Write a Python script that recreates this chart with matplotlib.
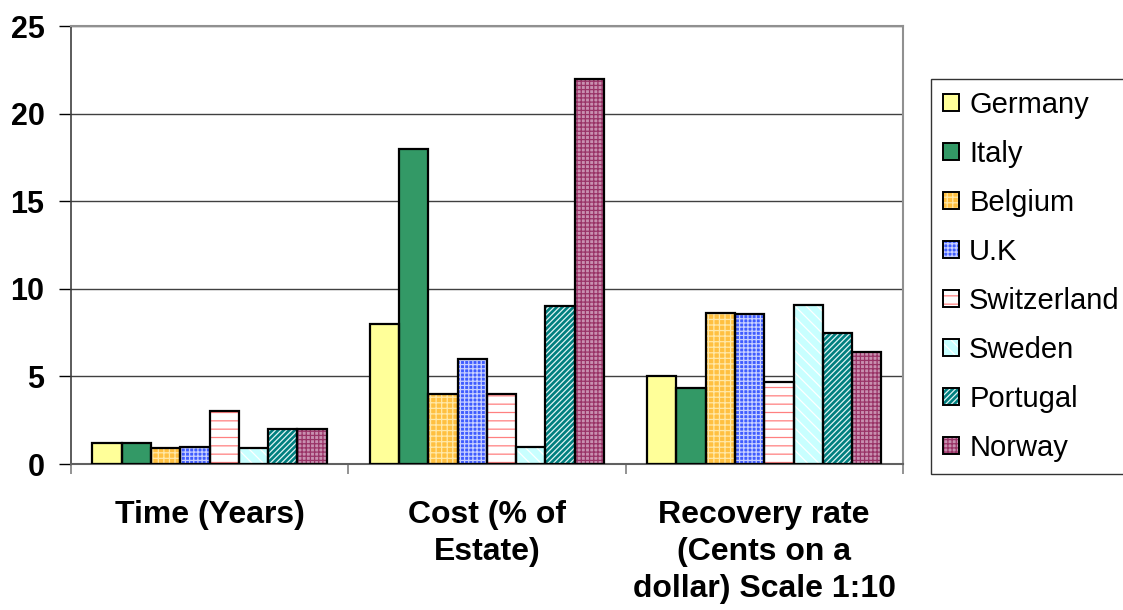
import matplotlib.pyplot as plt
import numpy as np
from matplotlib.patches import Patch
from matplotlib.legend_handler import HandlerTuple

plt.rcParams["font.family"] = ["Liberation Sans", "DejaVu Sans"]
plt.rcParams["hatch.linewidth"] = 0.9

categories = ["Time (Years)", "Cost (% of\nEstate)", "Recovery rate\n(Cents on a\ndollar) Scale 1:10"]
countries = ["Germany", "Italy", "Belgium", "U.K", "Switzerland", "Sweden", "Portugal", "Norway"]

# one list per country: time, cost, recovery rate / 10
germany = [1.2, 8, 5.0]
italy = [1.2, 18, 4.35]
belgium = [0.9, 4, 8.63]
uk = [1.0, 6, 8.58]
switzerland = [3.0, 4, 4.68]
sweden = [0.9, 1, 9.1]
portugal = [2.0, 9, 7.48]
norway = [2.0, 22, 6.39]
series = [germany, italy, belgium, uk, switzerland, sweden, portugal, norway]

# (fill colour, hatch, hatch colour)
styles = [
    ("#FFFF99", "", "#FFFF99"),
    ("#339966", "", "#339966"),
    ("#FFC040", "+++", "#FFE8A8"),
    ("#3F5CFF", "++++", "#C8D0FF"),
    ("#FFFFFF", "--", "#FF8080"),
    ("#C8FFFF", "\\\\\\", "#FFFFFF"),
    ("#007F7F", "//////", "#E0F4F4"),
    ("#C890B0", "++++", "#993366"),
]

fig = plt.figure(figsize=(11.23, 6.10), dpi=100)
ax = fig.add_axes([0.0632, 0.2393, 0.7408, 0.7177])

x = np.arange(len(categories))
width = 0.1056
handles = []
for i, (name, vals, (fc, hatch, hc)) in enumerate(zip(countries, series, styles)):
    pos = x + (i - 3.5) * width
    ax.bar(pos, vals, width, color=fc, hatch=hatch, edgecolor=hc, linewidth=0, zorder=2)
    ax.bar(pos, vals, width, fill=False, edgecolor="black", linewidth=1.6, zorder=3)
    handles.append((Patch(facecolor=fc, hatch=hatch, edgecolor=hc, linewidth=0),
                    Patch(fill=False, edgecolor="black", linewidth=1.4)))

ax.set_xlim(-0.5, 2.5)
ax.set_ylim(0, 25)
ax.set_yticks([0, 5, 10, 15, 20, 25])
ax.yaxis.grid(True, color="#404040", linewidth=1.0, zorder=0)
ax.set_axisbelow(True)

ax.set_xticks(x)
ax.set_xticklabels(categories, fontsize=23, fontweight="bold", linespacing=1.31)
ax.tick_params(axis="x", length=0, pad=26)
ax.set_xticks([-0.5, 0.5, 1.5, 2.5], minor=True)
ax.tick_params(axis="x", which="minor", length=7, width=1.2, color="#808080", direction="out")
ax.tick_params(axis="y", length=9, width=1.0, color="black", pad=10)
for lbl in ax.get_yticklabels():
    lbl.set_fontsize(22)
    lbl.set_fontweight("bold")

for side in ["top", "right"]:
    ax.spines[side].set_color("#909090")
    ax.spines[side].set_linewidth(1.5)
ax.spines["left"].set_color("#404040")
ax.spines["bottom"].set_color("#606060")
ax.spines["left"].set_linewidth(1.2)
ax.spines["bottom"].set_linewidth(1.5)

leg = fig.legend(handles, countries, handler_map={tuple: HandlerTuple(ndivide=1)},
                 loc="upper left", bbox_to_anchor=(0.829, 0.871), fontsize=21,
                 handlelength=0.55, handleheight=0.55, handletextpad=0.34,
                 labelspacing=0.72, borderpad=0.42, borderaxespad=0,
                 fancybox=False, frameon=True)
leg.get_frame().set_edgecolor("black")
leg.get_frame().set_linewidth(1.0)

fig.savefig("out.png", dpi=100)
